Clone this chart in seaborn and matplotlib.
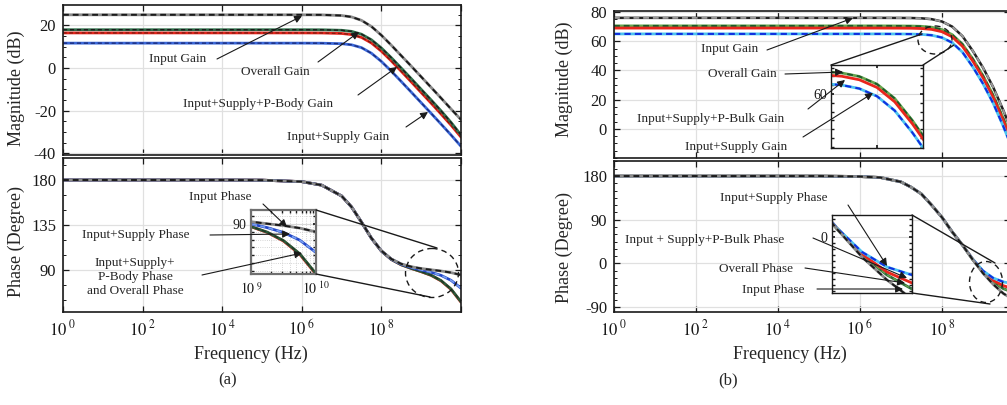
import matplotlib
matplotlib.use('Agg')
import matplotlib.pyplot as plt
import seaborn as sns
from matplotlib.patches import Ellipse
from matplotlib.ticker import FixedLocator, MultipleLocator, NullLocator, FixedFormatter, LogLocator

freq = [1, 1e2, 1e4, 1e5, 1e6, 3.16e6, 1e7, 1.78e7, 3.16e7, 5.62e7, 1e8, 1.78e8,
        3.16e8, 5.62e8, 1e9, 1.78e9, 3.16e9, 5.62e9, 1e10]

# (a) magnitude, dB
input_gain_a = [25, 25, 25, 25, 25, 24.97, 24.66, 24.0, 22.4, 19.5, 15.4, 10.7, 5.8, 0.9, -4.1, -9.1, -14.1, -19.2, -24.2]
overall_gain_a = [18, 18, 18, 18, 18, 17.97, 17.74, 17.22, 15.89, 13.26, 9.4, 4.83, -0.03, -4.98, -10.0, -15.0, -20.1, -25.5, -31.4]
pbody_gain_a = [16.5, 16.5, 16.5, 16.5, 16.5, 16.47, 16.24, 15.72, 14.39, 11.76, 7.9, 3.33, -1.53, -6.48, -11.5, -16.5, -21.6, -26.8, -32.4]
supply_gain_a = [11.7, 11.7, 11.7, 11.7, 11.7, 11.67, 11.44, 10.92, 9.59, 6.96, 3.1, -1.47, -6.33, -11.28, -16.28, -21.28, -26.31, -31.41, -36.72]

# (a) phase, degree
input_phase_a = [180, 180, 180, 179.84, 178.36, 174.84, 164.05, 153.07, 137.9, 121.9, 109.25, 101.0, 96.1, 93.3, 91.5, 90.2, 89.0, 87.4, 85.0]
supply_phase_a = [180, 180, 180, 179.84, 178.36, 174.84, 164.04, 153.05, 137.85, 121.8, 109.1, 100.8, 95.7, 92.5, 90.1, 87.7, 84.6, 79.7, 71.8]
pbody_phase_a = [180, 180, 180, 179.84, 178.36, 174.84, 164.0, 153.0, 137.8, 121.7, 108.9, 100.5, 95.2, 91.6, 88.3, 84.6, 79.1, 70.6, 57.8]
overall_phase_a = [180, 180, 180, 179.84, 178.36, 174.84, 164.0, 153.0, 137.8, 121.7, 108.9, 100.5, 95.2, 91.6, 88.4, 84.8, 79.4, 71.0, 58.2]

# (b) magnitude, dB
input_gain_b = [76, 76, 76, 76, 76, 76, 75.95, 75.9, 75.7, 75.1, 73.5, 70.0, 63.5, 53.5, 42.0, 28.5, 12.5, -5.0, -21.0]
overall_gain_b = [70.5, 70.5, 70.5, 70.5, 70.5, 70.5, 70.45, 70.4, 70.2, 69.6, 68.0, 64.5, 58.0, 48.0, 36.5, 23.0, 7.0, -10.5, -26.5]
pbulk_gain_b = [69, 69, 69, 69, 69, 69, 68.95, 68.9, 68.7, 68.1, 66.5, 63.0, 56.5, 46.5, 35.0, 21.5, 5.5, -12.0, -28.0]
supply_gain_b = [65, 65, 65, 65, 65, 65, 64.95, 64.9, 64.7, 64.1, 62.5, 59.0, 52.5, 42.5, 31.0, 17.5, 1.5, -16.0, -32.0]

# (b) phase, degree
input_phase_b = [180, 180, 180, 180, 179, 177, 168, 157, 143, 120, 95, 65, 38, 8, -20, -43, -62, -75, -82]
supply_phase_b = [180, 180, 180, 180, 179, 177, 168, 157, 143, 120, 95, 65, 38, 9, -15, -30, -38, -42, -44]
pbulk_phase_b = [180, 180, 180, 180, 179, 177, 168, 157, 143, 120, 95, 65, 38, 9, -17, -35, -46, -52, -55]
overall_phase_b = [180, 180, 180, 180, 179, 177, 168, 157, 143, 120, 95, 65, 38, 8, -18, -38, -52, -60, -64]

dec_ticks = [1e0, 1e2, 1e4, 1e6, 1e8, 1e10]
dec_labels = [r'$10^{\ 0}$', r'$10^{\ 2}$', r'$10^{\ 4}$', r'$10^{\ 6}$', r'$10^{\ 8}$', '']

sns.set_theme(style='ticks')
plt.rcParams['font.family'] = ['Liberation Serif', 'DejaVu Serif']
plt.rcParams['mathtext.fontset'] = 'stix'
plt.rcParams['axes.unicode_minus'] = False

W, H = 1007, 405
fig = plt.figure(figsize=(W / 100, H / 100), dpi=100)


def box(x0, y0, x1, y1):
    # pixel box measured from the top-left corner
    return [x0 / W, 1 - y1 / H, (x1 - x0) / W, (y1 - y0) / H]


def curve(ax, y, base, top=None, lw=2.0, dash_lw=1.4):
    sns.lineplot(x=freq, y=y, ax=ax, color=base, lw=lw, estimator=None)
    if top is not None:
        sns.lineplot(x=freq, y=y, ax=ax, color=top, lw=dash_lw, estimator=None,
                     linestyle=(0, (3, 2)))


def frame(ax, xlim, ylim, yticks, yminor, xlabels):
    ax.set_xscale('log')
    ax.set_xlim(*xlim)
    ax.set_ylim(*ylim)
    ax.xaxis.set_major_locator(FixedLocator(dec_ticks))
    ax.xaxis.set_minor_locator(NullLocator())
    if xlabels:
        ax.xaxis.set_major_formatter(FixedFormatter(dec_labels))
    else:
        ax.set_xticklabels([])
    ax.set_yticks(yticks)
    ax.set_yticklabels([str(v) for v in yticks])
    ax.yaxis.set_minor_locator(MultipleLocator(yminor))
    ax.tick_params(which='both', direction='in', top=True, right=True, colors='k',
                   labelsize=12, pad=5)
    ax.tick_params(which='major', length=4, width=0.9)
    ax.tick_params(which='minor', length=2.5, width=0.7)
    ax.grid(True, which='major', color='#e0e0e0', lw=0.9)
    for s in ax.spines.values():
        s.set_linewidth(1.2)
        s.set_color('k')
    ax.set_xlabel('')
    ax.set_ylabel('')


def inset_frame(ax, xlim, ylim, ec='k', elw=1.0):
    ax.set_xscale('log')
    ax.set_xlim(*xlim)
    ax.set_ylim(*ylim)
    ax.tick_params(which='both', direction='in', top=True, right=True, colors='k',
                   labelsize=10, pad=3, length=2)
    for s in ax.spines.values():
        s.set_linewidth(elw)
        s.set_color(ec)
    ax.set_facecolor('white')
    ax.set_xlabel('')
    ax.set_ylabel('')


# ---------------- (a) ----------------
ax1 = fig.add_axes(box(63, 5, 461, 155))
ax1.set_xscale('log')
curve(ax1, input_gain_a, '#8a8a8a', 'k')
curve(ax1, pbody_gain_a, '#e3241b', '#7a1a10', dash_lw=0.9)
curve(ax1, overall_gain_a, '#2f6e4a', 'k', dash_lw=1.0)
curve(ax1, supply_gain_a, '#3b68d8', '#1b2c7c', dash_lw=1.0)
frame(ax1, (1, 1e10), (-40.8, 29.6), [-40, -20, 0, 20], 5, False)
ax1.set_ylabel('Magnitude (dB)', fontsize=13)
ax1.yaxis.set_label_coords(-0.096, 0.447)

ax2 = fig.add_axes(box(63, 158, 461, 312))
ax2.set_xscale('log')
curve(ax2, pbody_phase_a, '#e3241b')
curve(ax2, overall_phase_a, '#2d5a3a', '#1e3a25', dash_lw=1.0)
curve(ax2, supply_phase_a, '#2448c8', '#7aa0f0', dash_lw=1.2)
curve(ax2, input_phase_a, '#8a8a8a', 'k')
frame(ax2, (1, 1e10), (48, 202), [90, 135, 180], 15, True)
ax2.set_ylabel('Phase (Degree)', fontsize=13)
ax2.yaxis.set_label_coords(-0.096, 0.46)
ax2.set_xlabel('Frequency (Hz)', fontsize=13, labelpad=0)
ax2.xaxis.set_label_coords(0.472, -0.22)

axi1 = fig.add_axes(box(251, 210, 316, 274), zorder=5)
axi1.set_xscale('log')
curve(axi1, pbody_phase_a, '#e3241b')
curve(axi1, overall_phase_a, '#2d5a3a', '#1e3a25', dash_lw=1.0)
curve(axi1, supply_phase_a, '#2448c8', '#7aa0f0', dash_lw=1.2)
curve(axi1, input_phase_a, '#8a8a8a', 'k')
inset_frame(axi1, (1e9, 1e10), (58, 99), ec='#707070', elw=1.6)
axi1.xaxis.set_major_locator(FixedLocator([1e9, 1e10]))
axi1.xaxis.set_major_formatter(FixedFormatter([r'$10^{\ 9}$', r'$10^{\ 10}$']))
axi1.xaxis.set_minor_locator(LogLocator(base=10, subs=range(2, 10)))
axi1.set_yticks([90])
axi1.set_yticklabels(['90'])
axi1.yaxis.set_minor_locator(MultipleLocator(5))
axi1.grid(True, which='major', color='#d8d8d8', lw=0.8)
axi1.grid(True, which='minor', color='#c8c8c8', lw=0.6, ls=':')
axi1.tick_params(axis='x', pad=5)

# ---------------- (b) ----------------
xlim_b = (1, 10 ** 9.66)
ax3 = fig.add_axes(box(614, 11, 1010, 158))
ax3.set_xscale('log')
curve(ax3, input_gain_b, '#222222', '#9a9a9a', lw=1.8)
curve(ax3, overall_gain_b, '#67a54f', '#1d5b2a')
curve(ax3, pbulk_gain_b, '#e8261c')
curve(ax3, supply_gain_b, '#4cc3f0', '#1030e0', dash_lw=1.5)
frame(ax3, xlim_b, (-20, 80.7), [0, 20, 40, 60, 80], 5, False)
ax3.set_ylabel('Magnitude (dB)', fontsize=13)
ax3.yaxis.set_label_coords(-0.103, 0.537)

ax4 = fig.add_axes(box(614, 161, 1010, 312))
ax4.set_xscale('log')
curve(ax4, overall_phase_b, '#2e6b3a', '#67a54f', dash_lw=1.0)
curve(ax4, pbulk_phase_b, '#e8261c')
curve(ax4, supply_phase_b, '#4cc3f0', '#1030e0', dash_lw=1.5)
curve(ax4, input_phase_b, '#8a8a8a', 'k')
frame(ax4, xlim_b, (-100, 211), [-90, 0, 90, 180], 15, True)
ax4.set_ylabel('Phase (Degree)', fontsize=13)
ax4.yaxis.set_label_coords(-0.103, 0.43)
ax4.set_xlabel('Frequency (Hz)', fontsize=13, labelpad=0)
ax4.xaxis.set_label_coords(0.444, -0.225)

axi2 = fig.add_axes(box(831, 65, 923, 148), zorder=5)
axi2.set_xscale('log')
curve(axi2, overall_gain_b, '#67a54f', '#1d5b2a')
curve(axi2, pbulk_gain_b, '#e8261c')
curve(axi2, supply_gain_b, '#4cc3f0', '#1030e0', dash_lw=1.5)
inset_frame(axi2, (10 ** 7.6, 10 ** 8.9), (35.5, 73.2))
axi2.xaxis.set_major_locator(FixedLocator([10 ** 8.25]))
axi2.xaxis.set_minor_locator(NullLocator())
axi2.set_xticklabels([])
axi2.set_yticks([60])
axi2.set_yticklabels(['60'])
axi2.yaxis.set_minor_locator(MultipleLocator(4))
axi2.grid(True, which='major', color='#d8d8d8', lw=0.8)

axi3 = fig.add_axes(box(832, 215, 912, 293), zorder=5)
axi3.set_xscale('log')
curve(axi3, overall_phase_b, '#2e6b3a', '#67a54f', dash_lw=1.0)
curve(axi3, pbulk_phase_b, '#e8261c')
curve(axi3, supply_phase_b, '#4cc3f0', '#1030e0', dash_lw=1.5)
curve(axi3, input_phase_b, '#8a8a8a', 'k')
inset_frame(axi3, (10 ** 8.7, 10 ** 9.5), (-56, 22))
axi3.xaxis.set_major_locator(NullLocator())
axi3.xaxis.set_minor_locator(NullLocator())
axi3.set_yticks([0])
axi3.set_yticklabels(['0'])
axi3.yaxis.set_minor_locator(MultipleLocator(6))
axi3.grid(True, which='major', color='#d8d8d8', lw=0.8)

# ---------------- callouts ----------------
ov = fig.add_axes([0, 0, 1, 1], zorder=10)
ov.axis('off')
ov.patch.set_alpha(0)

links = [((316, 210), (437, 248)), ((316, 274), (430, 297)),
         ((831, 65), (922, 34)), ((923, 65), (954, 45)),
         ((912, 215), (995, 263)), ((912, 293), (990, 304))]
for (xa, ya), (xb, yb) in links:
    ov.plot([xa, xb], [ya, yb], color='k', lw=1.0)

for cx, cy, ew, eh in [(432, 273, 53, 49), (935, 40, 34, 28), (986, 282, 33, 41)]:
    ov.add_patch(Ellipse((cx, cy), ew, eh, fill=False, ec='k', lw=1.0, ls=(0, (4, 3))))

notes = [
    ('Input Gain', (178, 59), (217, 59), (302, 16)),
    ('Overall Gain', (275, 72), (318, 62), (359, 32)),
    ('Input+Supply+P-Body Gain', (258, 104), (358, 95), (397, 67)),
    ('Input+Supply Gain', (338, 137), (406, 127), (428, 112)),
    ('Input Phase', (220, 197), (263, 204), (287, 227)),
    ('Input+Supply Phase', (136, 235), (210, 235), (290, 234)),
    ('Input+Supply+\nP-Body Phase\nand Overall Phase', (135, 277), (202, 275), (302, 253)),
    ('Input Gain', (730, 49), (767, 50), (853, 18)),
    ('Overall Gain', (742, 74), (785, 74), (843, 72)),
    ('Input+Supply+P-Bulk Gain', (711, 119), (808, 109), (845, 80)),
    ('Input+Supply Gain', (736, 147), (803, 137), (873, 93)),
    ('Input+Supply Phase', (774, 198), (848, 205), (887, 266)),
    ('Input + Supply+P-Bulk Phase', (705, 240), (813, 238), (907, 278)),
    ('Overall Phase', (756, 269), (805, 268), (905, 283)),
    ('Input Phase', (773, 290), (817, 289), (903, 289)),
]
for txt, pos, tail, head in notes:
    ov.text(pos[0], pos[1], txt, fontsize=9.5, ha='center', va='center', linespacing=1.25)
    ov.annotate('', xy=head, xytext=tail,
                arrowprops=dict(arrowstyle='-|>', color='k', lw=0.8, mutation_scale=11,
                                shrinkA=0, shrinkB=0))

ov.text(228, 380, '(a)', fontsize=12, ha='center', va='center')
ov.text(728, 380, '(b)', fontsize=12, ha='center', va='center')

ov.set_xlim(0, W)
ov.set_ylim(H, 0)

fig.savefig('out.png', dpi=100)
